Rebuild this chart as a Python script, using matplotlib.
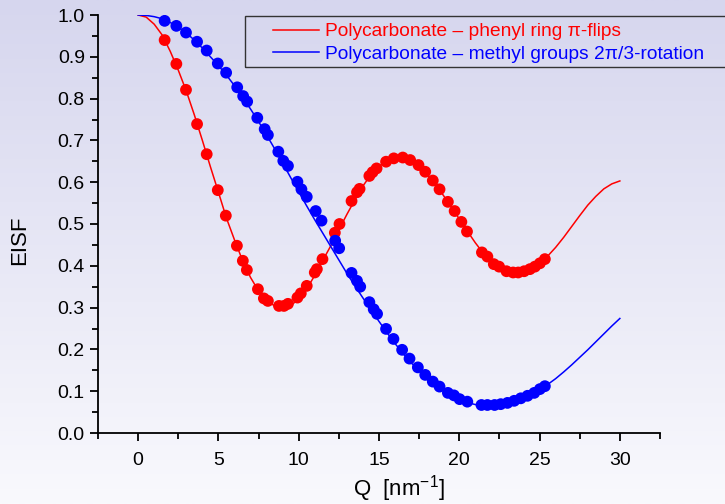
import numpy as np
import matplotlib
matplotlib.use("Agg")
import matplotlib.pyplot as plt
from matplotlib.patches import Rectangle
from matplotlib.ticker import MultipleLocator, FormatStrFormatter

plt.rcParams['font.family'] = ['Liberation Sans', 'DejaVu Sans']
plt.rcParams['mathtext.fontset'] = 'custom'
plt.rcParams['mathtext.rm'] = 'Liberation Sans'

# model curves (EISF vs Q)
q_line = [0, 0.5, 1, 1.5, 2, 2.5, 3, 3.5, 4, 4.5, 5, 5.5, 6, 6.5, 7, 7.5, 8, 8.5, 9, 9.5,
          10, 10.5, 11, 11.5, 12, 12.5, 13, 13.5, 14, 14.5, 15, 15.5, 16, 16.5, 17, 17.5,
          18, 18.5, 19, 19.5, 20, 20.5, 21, 21.5, 22, 22.5, 23, 23.5, 24, 24.5, 25, 25.5,
          26, 26.5, 27, 27.5, 28, 28.5, 29, 29.5, 30]
phenyl_line = [1.0, 0.995, 0.978, 0.952, 0.913, 0.868, 0.818, 0.761, 0.700, 0.637, 0.576,
               0.514, 0.462, 0.413, 0.372, 0.340, 0.317, 0.304, 0.300, 0.305, 0.320, 0.345,
               0.377, 0.413, 0.448, 0.486, 0.523, 0.558, 0.591, 0.618, 0.638, 0.651, 0.657,
               0.657, 0.650, 0.637, 0.618, 0.595, 0.569, 0.541, 0.512, 0.483, 0.455, 0.430,
               0.410, 0.395, 0.386, 0.382, 0.384, 0.392, 0.405, 0.423, 0.444, 0.468, 0.494,
               0.520, 0.545, 0.566, 0.584, 0.596, 0.603]
methyl_line = [1.0, 0.999, 0.996, 0.991, 0.982, 0.971, 0.957, 0.940, 0.921, 0.900, 0.879,
               0.856, 0.831, 0.804, 0.775, 0.745, 0.713, 0.680, 0.646, 0.611, 0.577, 0.543,
               0.510, 0.478, 0.446, 0.414, 0.382, 0.352, 0.323, 0.295, 0.267, 0.240, 0.214,
               0.190, 0.168, 0.149, 0.131, 0.116, 0.102, 0.090, 0.080, 0.073, 0.068, 0.066,
               0.066, 0.068, 0.072, 0.078, 0.085, 0.094, 0.104, 0.116, 0.130, 0.146, 0.163,
               0.181, 0.199, 0.218, 0.237, 0.256, 0.274]

# measured points
phenyl_q = [1.65, 2.38, 2.98, 3.67, 4.27, 4.96, 5.46, 6.15, 6.52, 6.77, 7.46, 7.83, 8.08,
            8.77, 9.08, 9.33, 9.92, 10.13, 10.5, 11.0, 11.13, 11.48, 12.25, 12.54, 13.29,
            13.63, 13.79, 14.4, 14.6, 14.85, 15.44, 15.92, 16.48, 16.94, 17.46, 17.88,
            18.35, 18.77, 19.29, 19.71, 20.13, 20.48, 21.41, 21.75, 22.15, 22.48, 22.94,
            23.35, 23.67, 24.04, 24.4, 24.71, 25.02, 25.33]
phenyl_eisf = [0.940, 0.883, 0.821, 0.739, 0.667, 0.581, 0.520, 0.448, 0.412, 0.390, 0.344,
               0.322, 0.316, 0.304, 0.304, 0.309, 0.324, 0.334, 0.352, 0.384, 0.392, 0.416,
               0.479, 0.500, 0.555, 0.576, 0.584, 0.615, 0.624, 0.633, 0.649, 0.657, 0.659,
               0.653, 0.641, 0.625, 0.604, 0.583, 0.553, 0.531, 0.505, 0.482, 0.432, 0.422,
               0.404, 0.398, 0.387, 0.384, 0.384, 0.387, 0.392, 0.398, 0.406, 0.416]
methyl_q = [1.65, 2.38, 2.98, 3.67, 4.27, 4.96, 5.48, 6.17, 6.54, 6.79, 7.42, 7.88, 8.08,
            8.73, 9.04, 9.33, 9.92, 10.17, 10.5, 11.06, 11.42, 12.27, 12.52, 13.29, 13.63,
            13.83, 14.4, 14.67, 14.88, 15.44, 15.9, 16.44, 16.9, 17.42, 17.88, 18.35, 18.77,
            19.29, 19.67, 20.02, 20.5, 21.38, 21.75, 22.2, 22.58, 23.0, 23.42, 23.83, 24.25,
            24.67, 25.02, 25.33]
methyl_eisf = [0.986, 0.974, 0.958, 0.936, 0.915, 0.884, 0.862, 0.827, 0.806, 0.793, 0.754,
               0.727, 0.713, 0.673, 0.651, 0.639, 0.601, 0.583, 0.565, 0.531, 0.508, 0.460,
               0.442, 0.383, 0.364, 0.350, 0.313, 0.296, 0.285, 0.249, 0.225, 0.199, 0.178,
               0.157, 0.139, 0.123, 0.111, 0.096, 0.090, 0.081, 0.075, 0.067, 0.067, 0.067,
               0.069, 0.072, 0.077, 0.083, 0.089, 0.096, 0.105, 0.112]

W, H = 725, 504
fig = plt.figure(figsize=(W / 100, H / 100), dpi=100)

# lavender-to-white background
bg = fig.add_axes([0, 0, 1, 1], zorder=-1)
grad = np.linspace(0, 1, 256).reshape(-1, 1)
top = np.array([214, 214, 238]) / 255.0
bottom = np.array([249, 249, 253]) / 255.0
img = top[None, None, :] * (1 - grad[:, :, None]) + bottom[None, None, :] * grad[:, :, None]
bg.imshow(img, aspect='auto', extent=[0, 1, 0, 1])
bg.axis('off')

ax = fig.add_axes([98 / W, 1 - 433 / H, 562 / W, 418 / H])
ax.set_facecolor('none')

ax.plot(q_line, phenyl_line, color='#ff0000', lw=1.1,
        label='Polycarbonate \u2013 phenyl ring \u03c0-flips')
ax.plot(q_line, methyl_line, color='#0000ff', lw=1.1,
        label='Polycarbonate \u2013 methyl groups 2\u03c0/3-rotation')
ax.scatter(phenyl_q, phenyl_eisf, s=72, color='#ff0000', edgecolors='none', zorder=3)
ax.scatter(methyl_q, methyl_eisf, s=72, color='#0000ff', edgecolors='none', zorder=3)

ax.set_xlim(-2.5, 32.5)
ax.set_ylim(0, 1.0)
ax.xaxis.set_major_locator(MultipleLocator(5))
ax.xaxis.set_minor_locator(MultipleLocator(2.5))
ax.yaxis.set_major_locator(MultipleLocator(0.1))
ax.yaxis.set_minor_locator(MultipleLocator(0.05))
ax.yaxis.set_major_formatter(FormatStrFormatter('%.1f'))
ax.tick_params(which='major', direction='out', length=6, width=1.3, labelsize=14)
ax.tick_params(which='minor', direction='out', length=4, width=1.3)
ax.tick_params(axis='x', pad=8)
for side in ('top', 'right'):
    ax.spines[side].set_visible(False)
for side in ('left', 'bottom'):
    ax.spines[side].set_linewidth(1.3)

ax.set_xlabel('Q  [nm$^{\\mathregular{-1}}$]', fontsize=16)
ax.xaxis.set_label_coords(0.535, -0.095)
ax.set_ylabel('EISF', fontsize=16)
ax.yaxis.set_label_coords(-0.12, 0.46)

# legend box runs off the right edge of the figure
fig.patches.append(Rectangle((245 / W, 1 - 67 / H), 0.7, 51 / H, transform=fig.transFigure,
                             fill=False, edgecolor='#333333', lw=1.0, clip_on=False))
leg = fig.legend(loc='upper left', bbox_to_anchor=(273 / W, 1 - 23 / H),
                 fontsize=13.8, labelcolor='linecolor', frameon=False, borderaxespad=0,
                 borderpad=0, handlelength=2.4, handletextpad=0.3, labelspacing=0.25)

fig.savefig('out.png', dpi=100)
